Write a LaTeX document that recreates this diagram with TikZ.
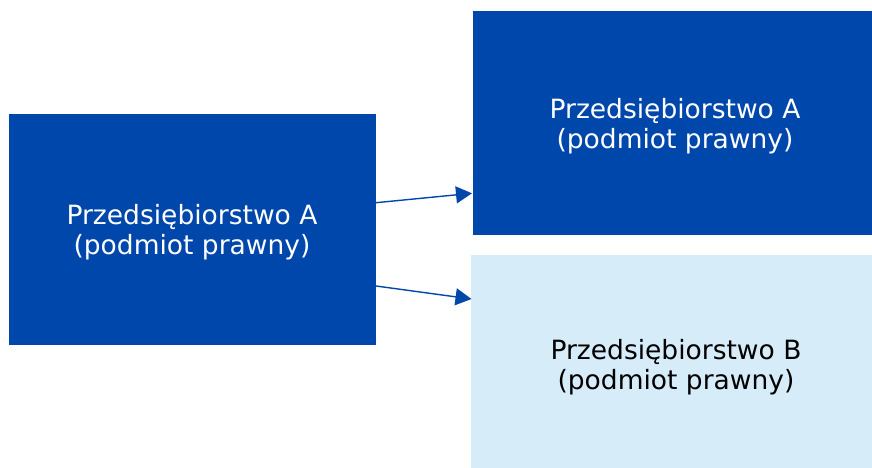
\documentclass[tikz,border=0pt]{standalone}
\usepackage{fontspec}
\setmainfont{DejaVu Sans}
\usetikzlibrary{arrows.meta}
\definecolor{dblue}{RGB}{0,71,171}
\definecolor{lblue}{RGB}{214,237,249}
\begin{document}
\begin{tikzpicture}[x=1pt,y=-1pt,
  box/.style={draw=none,inner sep=0pt,outer sep=0pt,font=\fontsize{26.5}{30}\selectfont,align=center},
  conn/.style={draw=dblue,line width=1.4pt,-{Triangle[length=16pt,width=17pt]}}]
\useasboundingbox (0,0) rectangle (872,468);
\fill[dblue] (9,114) rectangle (376,345);
\fill[dblue] (473,11) rectangle (872,235);
\fill[lblue] (471,255) rectangle (872,468);
\node[box,text=white] (a) at (192,232) {Przedsiębiorstwo A\\(podmiot prawny)};
\node[box,text=white] (b) at (675,126) {Przedsiębiorstwo A\\(podmiot prawny)};
\node[box,text=black] (c) at (676,367) {Przedsiębiorstwo B\\(podmiot prawny)};
\coordinate (s1) at (376,202.7);
\coordinate (t1) at (472,193.3);
\coordinate (s2) at (376,286);
\coordinate (t2) at (471.5,299);
\draw[conn] (s1) -- (t1);
\draw[conn] (s2) -- (t2);
\end{tikzpicture}
\end{document}
